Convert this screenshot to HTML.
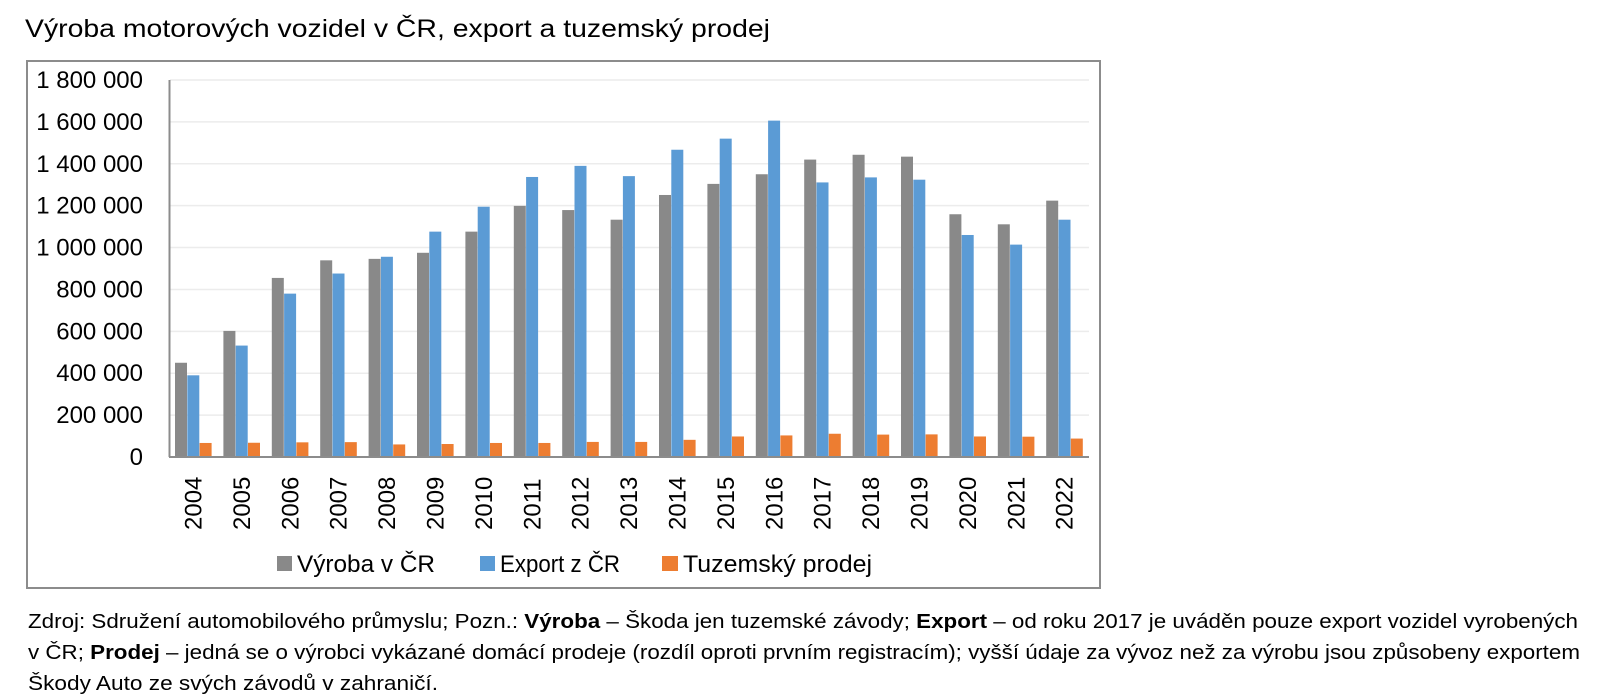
<!DOCTYPE html>
<html><head><meta charset="utf-8"><style>
html,body{margin:0;padding:0;background:#fff;}
svg{display:block;}
</style></head><body>
<svg width="1597" height="699" xmlns="http://www.w3.org/2000/svg" font-family="'Liberation Sans', sans-serif">
<text x="25" y="37" font-size="25" fill="#000" textLength="745" lengthAdjust="spacingAndGlyphs">Výroba motorových vozidel v ČR, export a tuzemský prodej</text>
<rect x="27" y="61" width="1073" height="527" fill="none" stroke="#8c8c8c" stroke-width="2"/>
<g id="grid" stroke="#ececec" stroke-width="1.5"></g>
<g id="bars"></g>
<line x1="169.5" y1="80" x2="169.5" y2="457" stroke="#8c8c8c" stroke-width="2"/>
<line x1="169" y1="457" x2="1089" y2="457" stroke="#8c8c8c" stroke-width="2"/>
<g id="ylab" font-size="24" text-anchor="end" fill="#000"></g>
<g id="xlab" font-size="24" fill="#000"></g>
<g font-size="24" fill="#000">
<rect x="277" y="556" width="15" height="15" fill="#898989"/>
<text x="297" y="572" textLength="138" lengthAdjust="spacingAndGlyphs">Výroba v ČR</text>
<rect x="480" y="556" width="15" height="15" fill="#5b9bd5"/>
<text x="500" y="572" textLength="120" lengthAdjust="spacingAndGlyphs">Export z ČR</text>
<rect x="662" y="556" width="16" height="15" fill="#ed7d31"/>
<text x="683" y="572" textLength="189" lengthAdjust="spacingAndGlyphs">Tuzemský prodej</text>
</g>
<g font-size="20" fill="#000">
<text x="28" y="628" textLength="1550" lengthAdjust="spacingAndGlyphs">Zdroj: Sdružení automobilového průmyslu; Pozn.: <tspan font-weight="bold">Výroba</tspan> – Škoda jen tuzemské závody; <tspan font-weight="bold">Export</tspan> – od roku 2017 je uváděn pouze export vozidel vyrobených</text>
<text x="28" y="659" textLength="1552" lengthAdjust="spacingAndGlyphs">v ČR; <tspan font-weight="bold">Prodej</tspan> – jedná se o výrobci vykázané domácí prodeje (rozdíl oproti prvním registracím); vyšší údaje za vývoz než za výrobu jsou způsobeny exportem</text>
<text x="28" y="690" textLength="410" lengthAdjust="spacingAndGlyphs">Škody Auto ze svých závodů v zahraničí.</text>
</g>
<script>
(function(){
var NS="http://www.w3.org/2000/svg";
function el(p,t,a,txt){var e=document.createElementNS(NS,t);for(var k in a)e.setAttribute(k,a[k]);if(txt!=null)e.textContent=txt;p.appendChild(e);return e;}
var y0=457,sc=377/1800000;
var g=document.getElementById('grid'),yl=document.getElementById('ylab');
var labs=["0","200 000","400 000","600 000","800 000","1 000 000","1 200 000","1 400 000","1 600 000","1 800 000"];
for(var i=0;i<10;i++){var y=y0-i*200000*sc;if(i>0)el(g,'line',{x1:170,y1:y,x2:1089,y2:y});
el(yl,'text',{x:143,y:y+8},labs[i]);}
var v=[450,602,855,939,946,975,1076,1199,1179,1133,1251,1304,1350,1420,1443,1434,1159,1111,1224];
var e=[390,532,780,876,956,1076,1195,1337,1390,1341,1467,1520,1606,1311,1335,1324,1060,1014,1133];
var p=[67,68,70,71,60,62,67,67,72,72,82,98,103,111,107,108,98,97,88];
var b=document.getElementById('bars'),xl=document.getElementById('xlab');
var step=48.4;
for(var i=0;i<19;i++){var x=175+i*step;
var h=v[i]*1000*sc;el(b,'rect',{x:x,y:y0-h,width:12,height:h,fill:'#898989'});
h=e[i]*1000*sc;el(b,'rect',{x:x+12.3,y:y0-h,width:12,height:h,fill:'#5b9bd5'});
h=p[i]*1000*sc;el(b,'rect',{x:x+24.6,y:y0-h,width:12,height:h,fill:'#ed7d31'});
var cx=x+18.5+8;
el(xl,'text',{x:cx,y:530,transform:'rotate(-90 '+cx+' 530)'},String(2004+i));}
})();
</script>
</svg>
</body></html>
